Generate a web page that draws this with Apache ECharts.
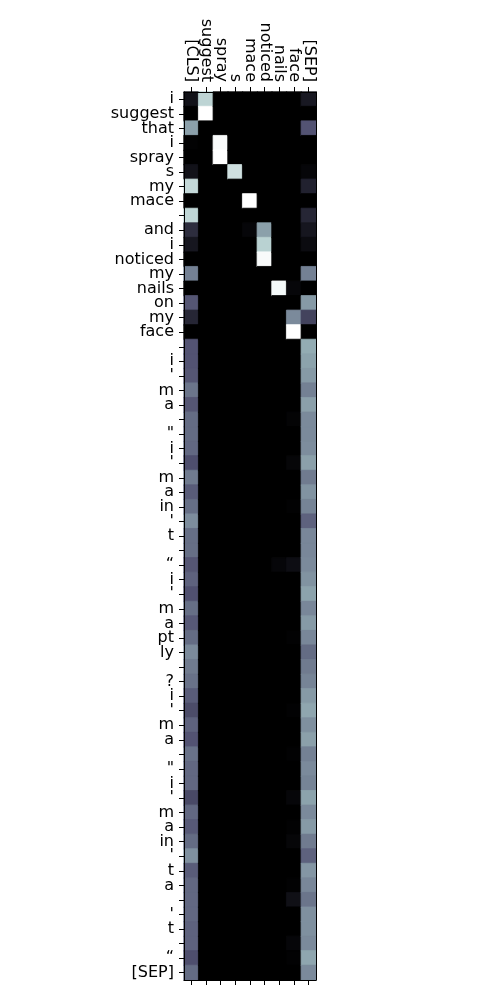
<!DOCTYPE html>
<html>
<head>
<meta charset="utf-8">
<script src="https://cdn.jsdelivr.net/npm/echarts@6/dist/echarts.min.js"></script>
<style>
html,body{margin:0;padding:0;background:#fff;}
#chart{width:500px;height:1000px;}
</style>
</head>
<body>
<div id="chart"></div>
<script>
const xLabels = ["[CLS]","suggest","spray","s","mace","noticed","nails","face","[SEP]"];
const yLabels = ["i","suggest","that","i","spray","s","my","mace","","and","i","noticed","my","nails","on","my","face","","i","'","m","a","","\"","i","'","m","a","in","'","t","","\u201c","i","'","m","a","pt","ly","","?","i","'","m","a","","\"","i","'","m","a","in","'","t","a","","'","t","","\u201c","[SEP]"];

const colCLS = [0.08,0.00,0.62,0.01,0.00,0.08,0.83,0.00,0.82,0.20,0.10,0.00,0.52,0.00,0.38,0.17,0.00,
  0.37,0.37,0.38,0.48,0.38,0.45,0.45,0.44,0.35,0.50,0.40,0.46,0.56,0.46,0.46,0.38,0.42,0.36,0.46,0.39,
  0.45,0.55,0.50,0.47,0.40,0.34,0.42,0.37,0.47,0.44,0.44,0.33,0.44,0.39,0.45,0.57,0.40,0.44,0.44,0.44,
  0.42,0.42,0.35,0.45];
const colSuggest = [0.81,1.00,0,0,0,0,0,0,0,0,0,0,0,0,0,0,0,
  0,0,0,0,0,0,0,0,0,0,0,0,0,0,0,0,0,0,0,0,0,0,0,0,0,0,0,0,0,0,0,0,0,0,0,0,0,0,0,0,0,0,0,0];
const colSpray = [0,0,0,0.98,1.00,0,0,0,0,0,0,0,0,0,0,0,0,
  0,0,0,0,0,0,0,0,0,0,0,0,0,0,0,0,0,0,0,0,0,0,0,0,0,0,0,0,0,0,0,0,0,0,0,0,0,0,0,0,0,0,0,0];
const colS = [0,0,0,0,0,0.86,0,0,0,0,0,0,0,0,0,0,0,
  0,0,0,0,0,0,0,0,0,0,0,0,0,0,0,0,0,0,0,0,0,0,0,0,0,0,0,0,0,0,0,0,0,0,0,0,0,0,0,0,0,0,0,0];
const colMace = [0,0,0,0,0,0,0,1.00,0,0.03,0,0,0,0,0,0,0,
  0,0,0,0,0,0,0,0,0,0,0,0,0,0,0,0,0,0,0,0,0,0,0,0,0,0,0,0,0,0,0,0,0,0,0,0,0,0,0,0,0,0,0,0];
const colNoticed = [0,0,0,0,0,0,0,0,0,0.62,0.80,0.98,0,0,0,0,0,
  0,0,0,0,0,0,0,0,0,0,0,0,0,0,0,0,0,0,0,0,0,0,0,0,0,0,0,0,0,0,0,0,0,0,0,0,0,0,0,0,0,0,0,0];
const colNails = [0,0,0,0,0,0,0,0,0,0,0,0,0,0.97,0,0,0,
  0,0,0,0,0,0,0,0,0,0,0,0,0,0,0,0.03,0,0,0,0,0,0,0,0,0,0,0,0,0,0,0,0,0,0,0,0,0,0,0,0,0,0,0,0];
const colFace = [0,0,0,0,0,0,0,0,0,0,0,0,0,0.03,0,0.55,1.00,
  0,0,0,0,0,0.015,0,0,0.025,0,0,0.01,0,0,0,0.06,0,0,0,0,0.01,0,0,0,0,0.01,0,0,0.01,0,0,0.03,0,0.01,0.025,0,0,0.01,0.07,0,0,0.03,0.01,0];
const colSEP = [0.11,0.00,0.37,0.00,0.00,0.03,0.15,0.00,0.17,0.10,0.05,0.00,0.52,0.00,0.60,0.30,0.00,
  0.66,0.63,0.60,0.52,0.62,0.55,0.55,0.56,0.62,0.50,0.58,0.53,0.42,0.54,0.54,0.55,0.58,0.63,0.54,0.60,
  0.54,0.45,0.50,0.53,0.60,0.64,0.57,0.62,0.52,0.55,0.53,0.63,0.55,0.60,0.50,0.42,0.59,0.54,0.48,0.57,
  0.57,0.55,0.64,0.55];

const columns = [colCLS,colSuggest,colSpray,colS,colMace,colNoticed,colNails,colFace,colSEP];

// matplotlib "bone" colormap
function interp(pts, t){
  for (let i=1;i<pts.length;i++){
    if (t <= pts[i][0]){
      const a=pts[i-1], b=pts[i];
      return a[1] + (b[1]-a[1])*(t-a[0])/(b[0]-a[0]);
    }
  }
  return pts[pts.length-1][1];
}
function bone(t){
  t = Math.max(0, Math.min(1, t));
  const r = interp([[0,0],[0.746032,0.652778],[1,1]], t);
  const g = interp([[0,0],[0.365079,0.319444],[0.746032,0.777778],[1,1]], t);
  const b = interp([[0,0],[0.365079,0.444444],[1,1]], t);
  const h = v => Math.round(v*255).toString(16).padStart(2,'0');
  return '#'+h(r)+h(g)+h(b);
}
const boneStops = [];
for (let i=0;i<=60;i++) boneStops.push(bone(i/60));

const data = [];
columns.forEach((col, xi) => {
  col.forEach((v, yi) => data.push({
    value: [xi, yi, v],
    itemStyle: {borderColor: bone(v), borderWidth: 0.8}
  }));
});

const yIdx = yLabels.map((_, i) => String(i));
const font = 'DejaVu Sans';

const chart = echarts.init(document.getElementById('chart'), null, {renderer:'canvas'});
chart.setOption({
  animation: false,
  backgroundColor: '#fff',
  grid: {left: 184, right: 184, top: 92, bottom: 20, containLabel: false,
         show: true, backgroundColor: '#000', borderWidth: 0},
  xAxis: [
    {type:'category', data:xLabels, position:'top', z:10,
     axisLine:{show:true, lineStyle:{color:'#000', width:1}},
     axisTick:{show:true, interval:0, alignWithLabel:true, length:5, lineStyle:{color:'#000'}},
     axisLabel:{show:true, interval:0, rotate:90, margin:10, color:'#000', fontSize:16, fontFamily:font},
     splitLine:{show:false}},
    {type:'category', data:xLabels, position:'bottom', z:10,
     axisLine:{show:true, lineStyle:{color:'#000', width:1}},
     axisTick:{show:true, interval:0, alignWithLabel:true, length:5, lineStyle:{color:'#000'}},
     axisLabel:{show:false, interval:0}, splitLine:{show:false}}
  ],
  yAxis: [
    {type:'category', data:yIdx, inverse:true, position:'left', z:10,
     axisLine:{show:true, lineStyle:{color:'#000', width:1}},
     axisTick:{show:true, interval:0, alignWithLabel:true, length:5, lineStyle:{color:'#000'}},
     axisLabel:{show:true, interval:0, margin:10, color:'#000', fontSize:16, fontFamily:font,
       formatter:(v, i) => yLabels[i]},
     splitLine:{show:false}},
    {type:'category', data:yIdx, inverse:true, position:'right', z:10,
     axisLine:{show:true, lineStyle:{color:'#000', width:1}},
     axisTick:{show:false}, axisLabel:{show:false}, splitLine:{show:false}}
  ],
  visualMap: {show:false, type:'continuous', min:0, max:1, dimension:2, seriesIndex:0,
    inRange:{color: boneStops}},
  series: [{
    type:'heatmap', xAxisIndex:0, yAxisIndex:0, data:data,
    emphasis:{disabled:true}
  }]
});
</script>
</body>
</html>
